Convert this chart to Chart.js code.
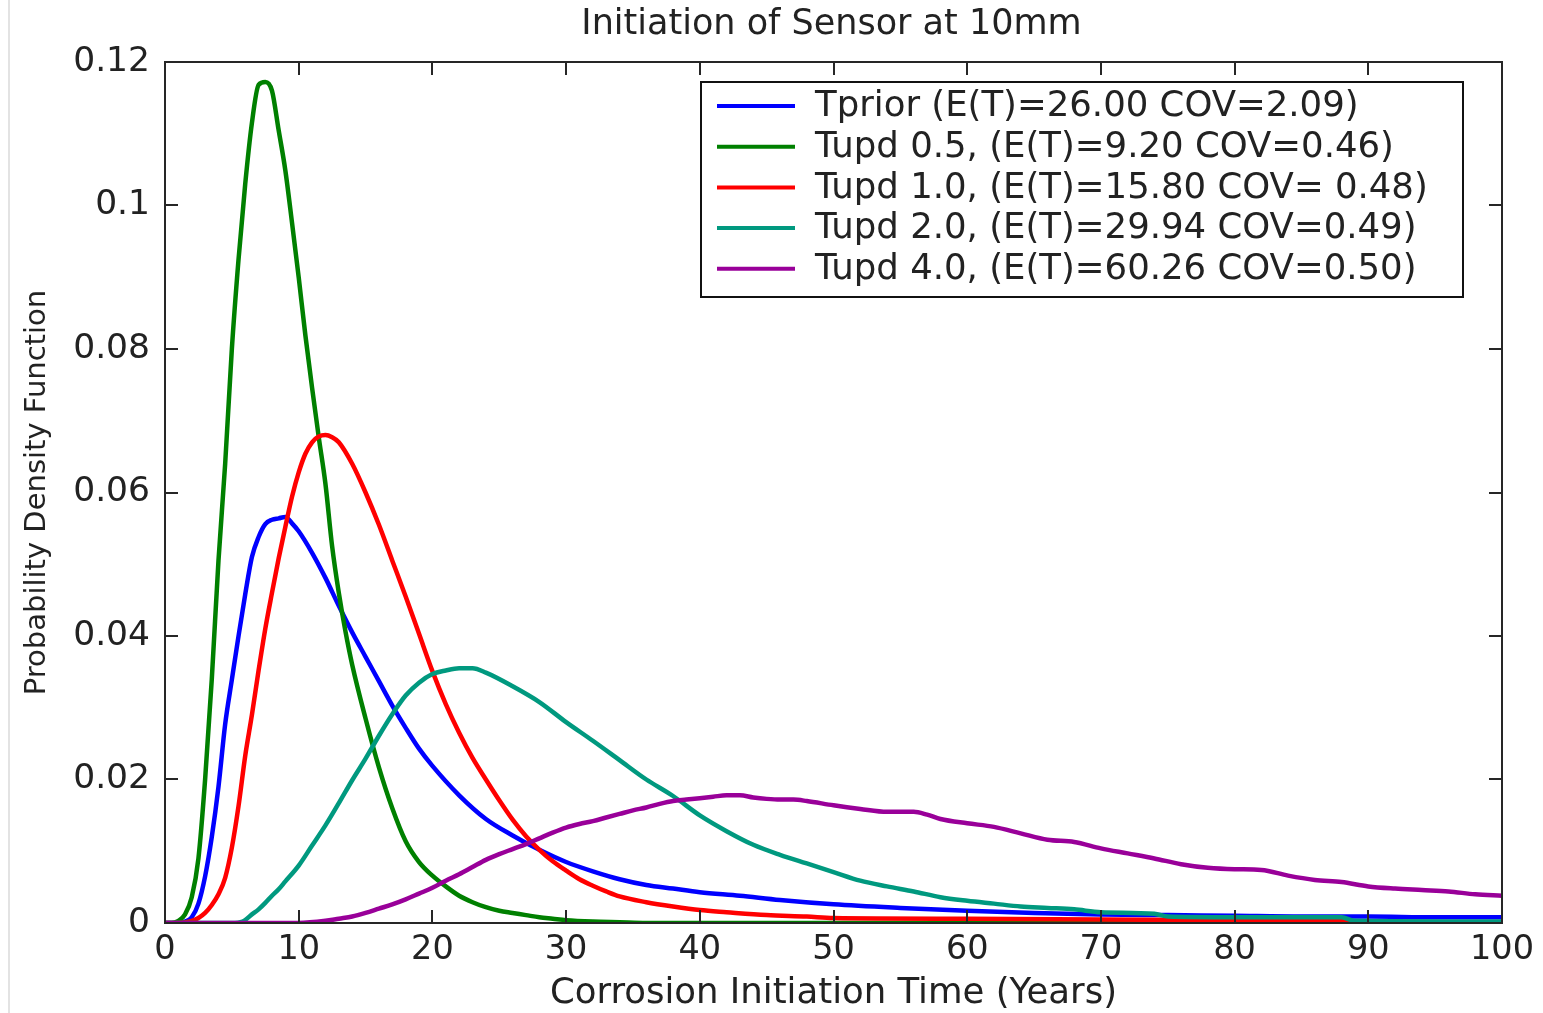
<!DOCTYPE html>
<html>
<head>
<meta charset="utf-8">
<script src="https://cdn.jsdelivr.net/npm/chart.js@4/dist/chart.umd.min.js"></script>
<style>
  html, body { margin: 0; padding: 0; background: #ffffff; }
  #wrap { position: relative; width: 1543px; height: 1013px; }
  canvas { display: block; }
</style>
</head>
<body>
<div id="wrap"><canvas id="pdfChart" width="1543" height="1013"></canvas></div>
<script>
// ---- texts ----
const chartTitle = 'Initiation of Sensor at 10mm';
const xAxisTitle = 'Corrosion Initiation Time (Years)';
const yAxisTitle = 'Probability Density Function';
const seriesLabels = [
  'Tprior (E(T)=26.00 COV=2.09)',
  'Tupd 0.5, (E(T)=9.20 COV=0.46)',
  'Tupd 1.0, (E(T)=15.80 COV= 0.48)',
  'Tupd 2.0, (E(T)=29.94 COV=0.49)',
  'Tupd 4.0, (E(T)=60.26 COV=0.50)'
];

// ---- tick values / labels ----
const xTicks = [0, 10, 20, 30, 40, 50, 60, 70, 80, 90, 100];
const yTicks = [0, 0.02, 0.04, 0.06, 0.08, 0.1, 0.12];
const yTickLabels = ['0', '0.02', '0.04', '0.06', '0.08', '0.1', '0.12'];

// ---- Tprior ----
const priorYears = [0, 1, 1.5, 2, 2.5, 3, 3.5, 4, 4.5, 5, 5.5, 6, 6.5, 7, 7.5, 8, 8.5, 9, 9.5, 10,
  11, 12, 13, 14, 15, 16, 17, 18, 19, 20, 22, 24, 26, 28, 30, 32, 34, 36, 38, 40,
  43, 46, 50, 55, 60, 65, 70, 75, 80, 85, 90, 95, 100];
const priorPdf = [0, 0, 0.0002, 0.0008, 0.0027, 0.0065, 0.012, 0.019, 0.0277, 0.0339, 0.040, 0.0458, 0.051, 0.0538, 0.0556, 0.0562, 0.0564, 0.0566, 0.0557, 0.0546,
  0.0516, 0.0481, 0.0442, 0.0405, 0.0371, 0.0337, 0.0303, 0.0272, 0.0243, 0.0219, 0.0178, 0.0145, 0.0122, 0.0102, 0.0085, 0.0072, 0.0061, 0.0053, 0.0048, 0.0043,
  0.0038, 0.0032, 0.0026, 0.0021, 0.0017, 0.0014, 0.0012, 0.0011, 0.0010, 0.0009, 0.0009, 0.0008, 0.0008];

// ---- Tupd 0.5 ----
const upd05Years = [0, 0.5, 1, 1.5, 2, 2.5, 3, 3.5, 4, 4.5, 5, 5.5, 6, 6.5, 7, 7.5, 8, 8.5, 9, 9.5, 10,
  10.5, 11, 11.5, 12, 12.5, 13, 13.5, 14, 15, 16, 17, 18, 19, 20, 21, 22, 23, 24, 25, 26, 27, 28, 29, 30,
  32, 34, 36, 40, 50, 60, 70, 80, 90, 100];
const upd05Pdf = [0, 0, 0.0003, 0.0012, 0.0036, 0.009, 0.020, 0.034, 0.0505, 0.0640, 0.0800, 0.0925, 0.1030, 0.1115, 0.1168, 0.1172, 0.1160, 0.1105, 0.1049, 0.0976, 0.0900,
  0.0819, 0.0746, 0.0677, 0.0612, 0.0525, 0.0460, 0.0406, 0.0360, 0.0285, 0.0217, 0.0160, 0.0114, 0.0085, 0.0066, 0.0051, 0.0038, 0.0029, 0.0022, 0.0017, 0.0014, 0.0011, 0.0008, 0.0006, 0.0004,
  0.0002, 0.0001, 0, 0, 0, 0, 0, 0, 0, 0];

// ---- Tupd 1.0 ----
const upd10Years = [0, 1, 2, 2.5, 3, 3.5, 4, 4.5, 5, 5.5, 6, 6.5, 7, 7.5, 8, 8.5, 9, 9.5, 10, 10.5, 11, 11.5, 12, 12.5, 13,
  14, 15, 16, 17, 18, 19, 20, 21, 22, 23, 24, 25, 26, 27, 28, 29, 30, 31, 32, 33, 34, 36, 38, 40, 42, 45, 48, 50,
  60, 70, 80, 88, 90, 100];
const upd10Pdf = [0, 0, 0.0003, 0.0007, 0.0014, 0.0025, 0.004, 0.0063, 0.0105, 0.0163, 0.0233, 0.029, 0.0352, 0.0410, 0.0460, 0.0508, 0.0552, 0.0594, 0.0628, 0.0654, 0.0670, 0.0678, 0.0680, 0.0677, 0.0670,
  0.0640, 0.0600, 0.0555, 0.0505, 0.0455, 0.0403, 0.0351, 0.0305, 0.0265, 0.0230, 0.0200, 0.0171, 0.0144, 0.0121, 0.0102, 0.0086, 0.0073, 0.0061, 0.0052, 0.0044, 0.0037, 0.0029, 0.0023, 0.0018, 0.0015, 0.0011, 0.0009, 0.0007,
  0.0006, 0.0005, 0.0004, 0.0003, 0.0001, 0.0001];

// ---- Tupd 2.0 ----
const upd20Years = [0, 5, 5.8, 6.5, 7, 7.5, 8, 8.5, 9, 10, 11, 12, 13, 14, 15, 16, 17, 18, 19, 20, 21, 22, 23, 24,
  26, 28, 30, 32, 34, 36, 38, 40, 42, 44, 46, 48, 50, 52, 54, 56, 58, 60, 62, 64, 66, 68, 70, 74, 75, 80, 88, 89, 100];
const upd20Pdf = [0, 0, 0.0002, 0.0012, 0.0019, 0.0028, 0.0038, 0.0047, 0.0058, 0.0080, 0.0108, 0.0136, 0.0167, 0.0199, 0.0229, 0.0261, 0.0291, 0.0317, 0.0335, 0.0347, 0.0352, 0.0355, 0.0355, 0.0349,
  0.0330, 0.0308, 0.0280, 0.0254, 0.0227, 0.0200, 0.0177, 0.0150, 0.0128, 0.0109, 0.0095, 0.0083, 0.0071, 0.0059, 0.0051, 0.0044, 0.0036, 0.0031, 0.0027, 0.0023, 0.0021, 0.0019, 0.0015, 0.0013, 0.0009, 0.0008, 0.0008, 0.0003, 0.0002];

// ---- Tupd 4.0 ----
const upd40Years = [0, 10, 12, 13, 14, 15, 16, 17, 18, 19, 20, 21, 22, 23, 24, 25, 26, 27, 28, 29, 30, 31, 32, 33, 34, 35, 36, 37, 38, 39, 40,
  41, 42, 43, 44, 45, 46, 47, 48, 50, 52, 54, 56, 57, 58, 60, 62, 64, 66, 68, 70, 72, 74, 76, 78, 80, 82, 84, 86, 88, 90, 92, 94, 96, 98, 100];
const upd40Pdf = [0, 0, 0.0003, 0.0006, 0.0009, 0.0014, 0.0020, 0.0026, 0.0033, 0.0041, 0.0049, 0.0059, 0.0068, 0.0078, 0.0088, 0.0096, 0.0103, 0.0110, 0.0118, 0.0126, 0.0133, 0.0138, 0.0142, 0.0147, 0.0152, 0.0157, 0.0161, 0.0166, 0.0170, 0.0172, 0.0174,
  0.0176, 0.0178, 0.0178, 0.0175, 0.0173, 0.0172, 0.0172, 0.0170, 0.0164, 0.0159, 0.0155, 0.0155, 0.0151, 0.0145, 0.0139, 0.0134, 0.0125, 0.0116, 0.0113, 0.0104, 0.0097, 0.0090, 0.0082, 0.0077, 0.0075, 0.0074, 0.0066, 0.0060, 0.0057, 0.0051, 0.0048, 0.0046, 0.0044, 0.0040, 0.0038];

// ---- styling ----
const seriesColors = ['#0000ff', '#008000', '#ff0000', '#00997f', '#990099'];
const FONT = '"DejaVu Sans", "Liberation Sans", sans-serif';
const INK = '#222222';

const toPoints = (xs, ys) => xs.map((x, i) => ({ x: x, y: ys[i] }));
const seriesData = [
  toPoints(priorYears, priorPdf),
  toPoints(upd05Years, upd05Pdf),
  toPoints(upd10Years, upd10Pdf),
  toPoints(upd20Years, upd20Pdf),
  toPoints(upd40Years, upd40Pdf)
];

// axes box with inward ticks on all four sides, the title and the boxed legend
const frameAndLegend = {
  id: 'frameAndLegend',
  beforeDraw(chart) {
    const { ctx, width, height } = chart;
    ctx.save();
    ctx.fillStyle = '#ffffff';
    ctx.fillRect(0, 0, width, height);
    ctx.strokeStyle = '#e3e3e3';
    ctx.lineWidth = 2;
    ctx.beginPath();
    ctx.moveTo(9, 0);
    ctx.lineTo(9, height);
    ctx.stroke();
    ctx.restore();
  },
  afterDatasetsDraw(chart) {
    const { ctx, chartArea: a, scales } = chart;
    const xs = scales.x, ys = scales.y;
    const tl = 13;
    ctx.save();
    ctx.strokeStyle = '#262626';
    ctx.lineWidth = 2;
    ctx.beginPath();
    xTicks.forEach(v => {
      const px = Math.round(xs.getPixelForValue(v));
      ctx.moveTo(px, a.bottom); ctx.lineTo(px, a.bottom - tl);
      ctx.moveTo(px, a.top); ctx.lineTo(px, a.top + tl);
    });
    yTicks.forEach(v => {
      const py = Math.round(ys.getPixelForValue(v));
      ctx.moveTo(a.left, py); ctx.lineTo(a.left + tl, py);
      ctx.moveTo(a.right, py); ctx.lineTo(a.right - tl, py);
    });
    ctx.stroke();
    ctx.strokeRect(a.left, a.top, a.right - a.left, a.bottom - a.top);

    // title
    ctx.fillStyle = INK;
    ctx.font = '35px ' + FONT;
    ctx.textAlign = 'center';
    ctx.textBaseline = 'middle';
    ctx.fillText(chartTitle, (a.left + a.right) / 2 - 2, 25);

    // legend
    const lgW = 762, lgH = 215, rowH = 40.7;
    const lgX = a.right - 39, lgY = a.top + 20;
    const left = lgX - lgW;
    ctx.fillStyle = '#ffffff';
    ctx.fillRect(left, lgY, lgW, lgH);
    ctx.strokeStyle = '#111111';
    ctx.lineWidth = 2;
    ctx.strokeRect(left, lgY, lgW, lgH);
    chart.data.datasets.forEach((ds, i) => {
      const cy = lgY + 24 + i * rowH;
      ctx.strokeStyle = ds.borderColor;
      ctx.lineWidth = 4;
      ctx.beginPath();
      ctx.moveTo(left + 16, cy);
      ctx.lineTo(left + 94, cy);
      ctx.stroke();
      ctx.fillStyle = INK;
      ctx.font = '35.5px ' + FONT;
      ctx.textAlign = 'left';
      ctx.textBaseline = 'middle';
      ctx.fillText(ds.label, left + 114, cy + 1);
    });
    ctx.restore();
  }
};

const datasets = seriesData.map((d, i) => ({
  label: seriesLabels[i],
  data: d,
  borderColor: seriesColors[i],
  backgroundColor: seriesColors[i],
  borderWidth: 4.5,
  pointRadius: 0,
  fill: false,
  cubicInterpolationMode: 'monotone',
  order: seriesLabels.length - i
}));

new Chart(document.getElementById('pdfChart'), {
  type: 'line',
  data: { datasets: datasets },
  plugins: [frameAndLegend],
  options: {
    responsive: false,
    animation: false,
    devicePixelRatio: 1,
    layout: { padding: { top: 62, right: 41, bottom: 0, left: 0 } },
    plugins: {
      legend: { display: false },
      title: { display: false },
      tooltip: { enabled: false }
    },
    scales: {
      x: {
        type: 'linear',
        min: 0,
        max: 100,
        afterBuildTicks: s => { s.ticks = xTicks.map(v => ({ value: v })); },
        afterFit: s => { s.height = 90; },
        grid: { display: false, drawTicks: false },
        border: { display: false },
        ticks: {
          color: INK,
          font: { family: FONT, size: 33.5 },
          padding: 7,
          maxRotation: 0,
          autoSkip: false
        },
        title: {
          display: true,
          text: xAxisTitle,
          color: INK,
          font: { family: FONT, size: 35.5, lineHeight: 1 },
          padding: { top: 0, bottom: 1 }
        }
      },
      y: {
        type: 'linear',
        min: 0,
        max: 0.12,
        afterBuildTicks: s => { s.ticks = yTicks.map(v => ({ value: v })); },
        afterFit: s => { s.width = 165; },
        grid: { display: false, drawTicks: false },
        border: { display: false },
        ticks: {
          color: INK,
          font: { family: FONT, size: 34.5 },
          padding: 15,
          autoSkip: false,
          callback: (v, i) => yTickLabels[i]
        },
        title: {
          display: true,
          text: yAxisTitle,
          color: INK,
          font: { family: FONT, size: 29, lineHeight: 1.2 },
          padding: { top: 20, bottom: 0 }
        }
      }
    }
  }
});
</script>
</body>
</html>
